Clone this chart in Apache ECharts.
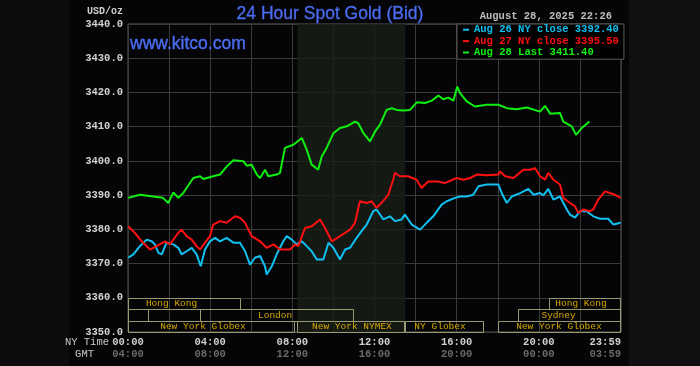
<!DOCTYPE html>
<html>
<head>
<meta charset="utf-8">
<script src="https://cdn.jsdelivr.net/npm/echarts@6/dist/echarts.min.js"></script>
<style>html,body{margin:0;padding:0;background:#0c0c0e;}#c{width:700px;height:366px;}</style>
</head>
<body>
<div id="c"></div>
<script>
// ---- data ----
const titleText = '24 Hour Spot Gold (Bid)';
const siteText = 'www.kitco.com';
const stampText = 'August 28, 2025 22:26';
const unitText = 'USD/oz';
const seriesNames = ['Aug 26 NY close 3392.40', 'Aug 27 NY close 3395.50', 'Aug 28 Last 3411.40'];
const seriesColors = ['#10c0f0', '#ff1010', '#10f010'];

const aug26Hours = [0.01,0.26,0.58,0.91,1.15,1.31,1.48,1.64,1.88,2.21,2.45,2.61,2.85,3.10,3.34,3.54,3.75,3.99,4.24,4.48,4.80,5.13,5.45,5.70,5.94,6.18,6.43,6.67,6.75,7.00,7.24,7.56,7.73,7.97,8.21,8.46,8.70,8.94,9.19,9.51,9.76,10.00,10.32,10.57,10.81,11.13,11.40,11.62,11.94,12.10,12.43,12.75,13.00,13.32,13.48,13.81,14.22,14.54,14.86,15.27,15.52,15.92,16.16,16.49,16.81,17.06,17.46,18.03,18.19,18.44,18.68,19.09,19.49,19.74,20.06,20.22,20.46,20.71,21.03,21.36,21.52,21.76,22.01,22.33,22.65,22.98,23.38,23.63,23.98];
const aug26Values = [3371.7,3372.7,3375.1,3377.0,3376.5,3375.6,3373.1,3372.7,3376.1,3375.6,3374.6,3372.7,3373.6,3374.6,3372.7,3369.2,3374.1,3376.5,3377.5,3376.5,3377.5,3376.1,3376.1,3373.6,3369.7,3371.7,3372.2,3369.2,3366.8,3369.2,3372.7,3376.5,3378.0,3377.0,3375.6,3376.5,3375.1,3373.6,3371.2,3371.2,3376.1,3374.6,3371.2,3374.1,3374.6,3377.5,3379.7,3381.4,3385.3,3385.8,3382.9,3383.8,3382.4,3382.9,3384.3,3381.4,3379.9,3381.9,3383.8,3387.2,3388.2,3389.2,3389.6,3389.6,3390.1,3392.6,3393.1,3393.1,3390.6,3387.7,3389.6,3390.6,3391.8,3390.1,3390.6,3389.9,3391.8,3388.7,3389.6,3385.8,3384.3,3383.4,3385.3,3385.3,3383.8,3383.1,3383.1,3381.4,3381.9];

const aug27Hours = [0.01,0.33,0.67,1.07,1.40,1.80,2.04,2.45,2.61,2.85,3.10,3.34,3.51,3.75,3.99,4.15,4.48,4.80,5.21,5.45,5.70,6.02,6.43,6.75,7.08,7.40,7.89,8.13,8.29,8.62,8.95,9.35,9.59,9.92,10.32,10.81,11.05,11.29,11.62,11.86,12.10,12.34,12.67,12.91,12.99,13.23,13.64,14.05,14.29,14.61,15.10,15.42,16.00,16.33,16.66,16.98,17.46,18.03,18.11,18.36,18.76,19.25,19.57,19.81,20.06,20.30,20.46,20.71,21.03,21.19,21.52,21.76,21.92,22.16,22.49,22.65,22.89,23.22,23.46,23.71,23.98];
const aug27Values = [3380.9,3379.0,3376.5,3374.1,3375.1,3376.5,3375.6,3379.0,3379.9,3378.0,3377.0,3375.1,3374.1,3376.1,3378.0,3381.4,3382.4,3381.9,3383.8,3383.4,3381.9,3378.0,3376.5,3374.6,3375.6,3374.1,3374.1,3375.6,3375.1,3380.4,3380.9,3382.9,3380.4,3376.5,3378.0,3379.9,3381.9,3388.2,3387.7,3388.2,3386.3,3387.7,3390.1,3394.5,3396.5,3395.5,3395.5,3394.5,3392.1,3394.0,3394.0,3393.5,3395.0,3394.5,3395.0,3396.0,3395.8,3396.0,3396.9,3395.5,3395.0,3397.4,3397.4,3397.9,3395.5,3394.5,3396.5,3394.5,3393.1,3389.2,3387.7,3386.7,3384.8,3385.8,3385.3,3385.8,3388.7,3391.1,3390.6,3390.1,3389.2];

const aug28Hours = [0.01,0.58,1.22,1.70,1.96,2.21,2.45,2.69,3.02,3.18,3.51,3.67,4.15,4.48,4.81,5.13,5.61,5.78,6.02,6.27,6.43,6.67,6.83,7.24,7.40,7.64,8.05,8.46,8.70,8.94,9.26,9.43,9.67,10.00,10.32,10.65,11.05,11.21,11.46,11.78,12.03,12.27,12.59,12.84,13.08,13.40,13.73,14.06,14.46,14.79,15.11,15.35,15.59,15.84,16.03,16.16,16.49,16.89,17.46,18.03,18.44,18.92,19.41,20.06,20.30,20.55,21.03,21.19,21.60,21.81,22.09,22.46];
const aug28Values = [3389.2,3390.1,3389.6,3389.2,3387.7,3390.8,3389.2,3390.6,3393.6,3395.0,3395.5,3394.7,3395.5,3396.0,3398.4,3400.2,3399.9,3398.6,3398.9,3396.0,3395.0,3397.4,3395.5,3396.0,3396.5,3403.8,3404.7,3406.7,3403.3,3398.9,3397.4,3401.3,3403.8,3408.1,3409.6,3410.1,3411.5,3411.0,3408.1,3405.7,3408.6,3410.6,3414.9,3415.4,3414.9,3414.7,3414.9,3417.1,3416.9,3417.6,3419.1,3418.0,3418.5,3417.6,3421.7,3419.8,3417.4,3415.9,3416.4,3416.4,3415.4,3415.1,3415.6,3414.4,3416.1,3413.8,3414.0,3411.5,3410.1,3407.6,3409.6,3411.5];

const nyTickLabels = ['00:00','04:00','08:00','12:00','16:00','20:00','23:59'];
const gmtTickLabels = ['04:00','08:00','12:00','16:00','20:00','00:00','03:59'];
const yMin = 3350, yMax = 3440, yStep = 10;

// session boxes: start hour, end hour, row, label, label centre hour
const sessionStart = [0, 20.5, 0, 3.5, 19, 0, 8.25, 13.5, 18];
const sessionEnd   = [5.5, 24, 1, 11, 24, 8.15, 13.5, 17.33, 24];
const sessionRow   = [0, 0, 1, 1, 1, 2, 2, 2, 2];
const sessionLabel = ['Hong Kong','Hong Kong','','London','Sydney','New York Globex','New York NYMEX','NY Globex','New York Globex'];
const sessionLabelAt = [2.12, 22.05, 0.5, 7.16, 20.96, 3.65, 10.9, 15.19, 20.98];
const nymexHours = [8.25, 13.5];

// ---- chart ----
const zip = (a, b) => a.map((t, i) => [t, b[i]]);
const mono = '"Liberation Mono", "DejaVu Sans Mono", monospace';
const rowH = (yMax - yMin) / 27; // 10/3

const chart = echarts.init(document.getElementById('c'), null, {renderer: 'canvas'});
const sessionData = sessionStart.map((s, i) => [s, sessionEnd[i], sessionRow[i], sessionLabelAt[i]]);

chart.setOption({
  backgroundColor: '#0c0c0e',
  animation: false,
  graphic: [
    {type: 'rect', z: -100, shape: {x: 69, y: 0, width: 560, height: 366}, style: {fill: '#050507'}},
    {type: 'rect', z: -100, shape: {x: 629, y: 0, width: 71, height: 366}, style: {fill: '#101012'}},
    {type: 'text', x: 330, y: 14, style: {text: titleText, fill: '#4a6cf0', font: '17.5px "Liberation Sans", Arial, sans-serif', align: 'center', verticalAlign: 'middle', stroke: '#4a6cf0', lineWidth: 0.3}},
    {type: 'text', x: 130, y: 44, z: 10, style: {text: siteText, fill: '#4a6cf0', font: '17.5px "Liberation Sans", Arial, sans-serif', align: 'left', verticalAlign: 'middle', stroke: '#4a6cf0', lineWidth: 0.4}},
    {type: 'text', x: 612, y: 16, style: {text: stampText, fill: '#bdbdbd', font: 'bold 10.5px ' + mono, align: 'right', verticalAlign: 'middle'}},
    {type: 'text', x: 123, y: 11, style: {text: unitText, fill: '#d0d0d0', font: 'bold 10px ' + mono, align: 'right', verticalAlign: 'middle'}},
    {type: 'text', x: 109, y: 342, style: {text: 'NY Time', fill: '#c8c8c8', font: '10.5px ' + mono, align: 'right', verticalAlign: 'middle'}},
    {type: 'text', x: 94, y: 354, style: {text: 'GMT', fill: '#c8c8c8', font: '10.5px ' + mono, align: 'right', verticalAlign: 'middle'}}
  ],
  legend: {
    orient: 'vertical',
    left: 457, top: 24,
    icon: 'rect', itemWidth: 6, itemHeight: 2, itemGap: 0, itemTextGap: 3,
    padding: [0, 5, 1, 6],
    backgroundColor: '#000',
    borderColor: '#5a5a5a', borderWidth: 1,
    selectedMode: false,
    textStyle: {fontFamily: mono, fontSize: 10.5, fontWeight: 'bold', lineHeight: 11.4},
    data: seriesNames.map((n, i) => ({name: n, textStyle: {color: seriesColors[i]}}))
  },
  grid: {left: 128, right: 79, top: 24, bottom: 34, show: true, borderColor: '#5a5a5a', borderWidth: 1, backgroundColor: 'transparent'},
  xAxis: {
    type: 'value', min: 0, max: 24, interval: 2,
    axisLine: {show: false}, axisTick: {show: false},
    splitLine: {show: true, lineStyle: {color: '#3a3a3a', width: 1}},
    axisLabel: {
      margin: 4, showMaxLabel: true, alignMaxLabel: 'right',
      formatter: v => {
        if (v % 4 !== 0) return '';
        const k = v / 4;
        return '{a|' + nyTickLabels[k] + '}\n{b|' + gmtTickLabels[k] + '}';
      },
      rich: {
        a: {color: '#cfcfcf', fontFamily: mono, fontSize: 10.5, fontWeight: 'bold', lineHeight: 12, padding: [0, 0, 0, 0]},
        b: {color: '#6a6a6a', fontFamily: mono, fontSize: 10.5, fontWeight: 'bold', lineHeight: 12}
      }
    }
  },
  yAxis: {
    type: 'value', min: yMin, max: yMax, interval: yStep,
    axisLine: {show: false}, axisTick: {show: false},
    splitLine: {show: true, lineStyle: {color: '#3a3a3a', width: 1}},
    axisLabel: {margin: 5, color: '#d2d2d2', fontFamily: mono, fontSize: 10.5, fontWeight: 'bold', formatter: v => v.toFixed(1)}
  },
  series: [
    {
      type: 'custom', name: 'sessions', z: 1, silent: true,
      data: sessionData,
      markArea: {silent: true, itemStyle: {color: 'rgba(24,30,24,0.8)', opacity: 1}, data: [[{xAxis: nymexHours[0]}, {xAxis: nymexHours[1]}]]},
      renderItem: (params, api) => {
        const i = params.dataIndex;
        const s = api.value(0), e = api.value(1), row = api.value(2), lx = api.value(3);
        const yTop = 3360 - row * rowH, yBot = yTop - rowH;
        const p1 = api.coord([s, yTop]), p2 = api.coord([e, yBot]);
        const lc = api.coord([lx, (yTop + yBot) / 2]);
        return {
          type: 'group',
          children: [
            {type: 'rect', shape: {x: Math.round(p1[0]) + 0.5, y: Math.round(p1[1]) + 0.5, width: Math.round(p2[0]) - Math.round(p1[0]) - 1, height: Math.round(p2[1]) - Math.round(p1[1])},
             style: {fill: 'none', stroke: '#9a9a70', lineWidth: 1}},
            {type: 'text', style: {text: sessionLabel[i], x: lc[0], y: lc[1] + 0.5, align: 'center', verticalAlign: 'middle', fill: '#d8aa00', font: '9.5px ' + mono}}
          ]
        };
      }
    },
    {name: seriesNames[0], type: 'line', data: zip(aug26Hours, aug26Values), showSymbol: false, z: 3,
     color: seriesColors[0], lineStyle: {width: 2, color: seriesColors[0]}},
    {name: seriesNames[1], type: 'line', data: zip(aug27Hours, aug27Values), showSymbol: false, z: 4,
     color: seriesColors[1], lineStyle: {width: 2, color: seriesColors[1]}},
    {name: seriesNames[2], type: 'line', data: zip(aug28Hours, aug28Values), showSymbol: false, z: 5,
     color: seriesColors[2], lineStyle: {width: 2, color: seriesColors[2]}}
  ]
});
</script>
</body>
</html>
